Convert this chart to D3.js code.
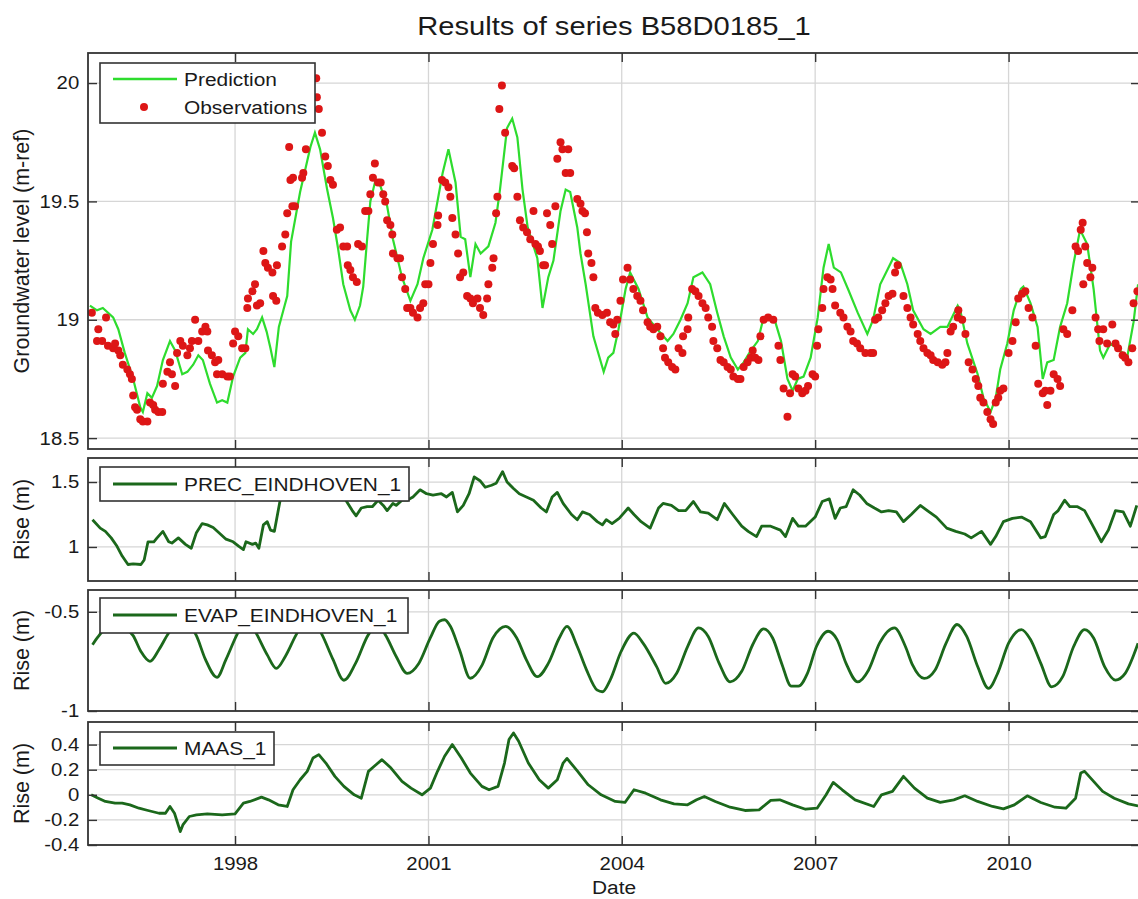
<!DOCTYPE html>
<html>
<head>
<meta charset="utf-8">
<script src="https://cdn.jsdelivr.net/npm/d3@7"></script>
<style>
  body { margin: 0; background: #fff; }
  text { font-family: "Liberation Sans", Arial, sans-serif; fill: #1a1a1a; }
</style>
</head>
<body>
<svg id="chart"></svg>
<script>
// ---- data (decimal year, value) ----
const yearTicks = [1998, 2001, 2004, 2007, 2010];
const mainTicks = [18.5, 19, 19.5, 20];
const precTicks = [1, 1.5];
const evapTicks = [-1, -0.5];
const maasTicks = [-0.4, -0.2, 0, 0.2, 0.4];

const prediction = [
[1995.75,19.06],[1995.86,19.04],[1995.95,19.05],[1996.11,19.01],[1996.19,18.96],[1996.29,18.86],[1996.42,18.75],[1996.53,18.63],[1996.57,18.61],[1996.64,18.69],[1996.71,18.67],[1996.79,18.72],[1996.88,18.83],[1996.99,18.91],[1997.07,18.87],[1997.18,18.77],[1997.26,18.78],[1997.35,18.81],[1997.43,18.85],[1997.50,18.83],[1997.61,18.73],[1997.72,18.65],[1997.80,18.66],[1997.88,18.65],[1997.97,18.76],[1998.08,18.84],[1998.16,18.86],[1998.20,18.96],[1998.28,18.94],[1998.34,18.96],[1998.42,19.01],[1998.49,18.95],[1998.55,18.88],[1998.61,18.80],[1998.68,18.97],[1998.75,19.04],[1998.81,19.10],[1998.87,19.33],[1999.01,19.54],[1999.17,19.73],[1999.24,19.79],[1999.32,19.72],[1999.43,19.55],[1999.52,19.43],[1999.60,19.30],[1999.68,19.15],[1999.79,19.04],[1999.86,19.00],[1999.94,19.06],[1999.99,19.14],[2000.05,19.34],[2000.10,19.50],[2000.18,19.59],[2000.25,19.57],[2000.36,19.48],[2000.45,19.34],[2000.59,19.18],[2000.72,19.08],[2000.83,19.15],[2000.92,19.26],[2001.06,19.38],[2001.22,19.62],[2001.31,19.72],[2001.42,19.58],[2001.50,19.35],[2001.57,19.34],[2001.65,19.18],[2001.73,19.32],[2001.81,19.28],[2001.93,19.31],[2002.04,19.41],[2002.11,19.55],[2002.22,19.81],[2002.30,19.85],[2002.38,19.77],[2002.46,19.55],[2002.54,19.39],[2002.69,19.26],[2002.77,19.05],[2002.86,19.18],[2002.94,19.25],[2003.05,19.46],[2003.13,19.55],[2003.20,19.54],[2003.31,19.39],[2003.36,19.28],[2003.44,19.15],[2003.56,18.93],[2003.72,18.78],[2003.79,18.84],[2003.87,18.86],[2003.95,18.96],[2004.06,19.13],[2004.13,19.20],[2004.26,19.13],[2004.40,19.01],[2004.55,18.96],[2004.71,18.91],[2004.80,18.94],[2004.91,19.00],[2005.02,19.07],[2005.11,19.18],[2005.25,19.20],[2005.37,19.15],[2005.48,19.03],[2005.58,18.93],[2005.69,18.84],[2005.80,18.79],[2005.89,18.82],[2006.00,18.87],[2006.11,18.91],[2006.20,19.01],[2006.36,19.01],[2006.47,18.91],[2006.57,18.75],[2006.65,18.70],[2006.73,18.75],[2006.82,18.76],[2006.93,18.84],[2007.04,19.01],[2007.13,19.22],[2007.21,19.32],[2007.29,19.22],[2007.40,19.20],[2007.51,19.13],[2007.66,19.03],[2007.81,18.94],[2007.90,19.00],[2008.01,19.15],[2008.12,19.21],[2008.21,19.26],[2008.32,19.24],[2008.43,19.15],[2008.52,19.04],[2008.68,18.96],[2008.79,18.94],[2008.94,18.97],[2009.05,18.97],[2009.21,19.06],[2009.25,19.04],[2009.36,18.90],[2009.52,18.77],[2009.61,18.67],[2009.72,18.61],[2009.80,18.67],[2009.87,18.79],[2009.98,18.90],[2010.08,19.04],[2010.19,19.13],[2010.23,19.14],[2010.34,19.07],[2010.45,18.97],[2010.53,18.75],[2010.60,18.82],[2010.70,18.83],[2010.80,18.97],[2010.91,19.07],[2011.01,19.24],[2011.11,19.38],[2011.22,19.32],[2011.32,19.13],[2011.42,18.87],[2011.47,18.84],[2011.58,18.90],[2011.73,18.87],[2011.84,18.84],[2011.94,18.99],[2012.01,19.15]
];

const observations = [
[1995.78,19.03],[1995.86,18.91],[1995.88,18.96],[1995.94,18.91],[1996.00,19.01],[1996.03,18.89],[1996.11,18.88],[1996.14,18.90],[1996.19,18.87],[1996.22,18.85],[1996.26,18.81],[1996.33,18.79],[1996.37,18.77],[1996.40,18.75],[1996.42,18.68],[1996.45,18.63],[1996.48,18.62],[1996.53,18.58],[1996.57,18.57],[1996.64,18.57],[1996.68,18.65],[1996.73,18.64],[1996.76,18.62],[1996.81,18.61],[1996.87,18.61],[1996.88,18.73],[1996.95,18.78],[1996.99,18.82],[1997.02,18.77],[1997.07,18.72],[1997.10,18.86],[1997.15,18.91],[1997.19,18.89],[1997.26,18.85],[1997.30,18.88],[1997.33,18.91],[1997.38,19.00],[1997.43,18.91],[1997.49,18.95],[1997.54,18.97],[1997.57,18.95],[1997.58,18.87],[1997.64,18.85],[1997.69,18.82],[1997.74,18.83],[1997.72,18.77],[1997.80,18.77],[1997.88,18.76],[1997.92,18.76],[1997.97,18.90],[1998.00,18.95],[1998.05,18.93],[1998.11,18.88],[1998.16,18.88],[1998.19,19.05],[1998.20,19.09],[1998.27,19.12],[1998.31,19.15],[1998.34,19.06],[1998.39,19.07],[1998.44,19.29],[1998.47,19.24],[1998.51,19.22],[1998.58,19.20],[1998.65,19.23],[1998.59,19.10],[1998.64,19.08],[1998.73,19.31],[1998.78,19.36],[1998.81,19.45],[1998.84,19.73],[1998.86,19.59],[1998.89,19.48],[1998.90,19.60],[1998.93,19.48],[1999.04,19.60],[1999.06,19.62],[1999.10,19.72],[1999.26,20.02],[1999.27,19.94],[1999.30,19.89],[1999.35,19.79],[1999.40,19.69],[1999.44,19.65],[1999.48,19.59],[1999.52,19.57],[1999.58,19.38],[1999.63,19.39],[1999.68,19.31],[1999.74,19.31],[1999.75,19.23],[1999.79,19.21],[1999.83,19.18],[1999.89,19.16],[1999.91,19.32],[1999.97,19.31],[2000.02,19.46],[2000.07,19.46],[2000.10,19.53],[2000.14,19.60],[2000.17,19.66],[2000.22,19.58],[2000.26,19.58],[2000.30,19.53],[2000.33,19.50],[2000.36,19.42],[2000.41,19.40],[2000.44,19.36],[2000.45,19.28],[2000.52,19.26],[2000.56,19.26],[2000.59,19.18],[2000.64,19.13],[2000.67,19.05],[2000.72,19.05],[2000.76,19.03],[2000.83,19.01],[2000.87,19.05],[2000.92,19.07],[2000.95,19.15],[2001.00,19.15],[2001.03,19.24],[2001.07,19.32],[2001.14,19.40],[2001.15,19.44],[2001.21,19.59],[2001.26,19.58],[2001.31,19.56],[2001.34,19.52],[2001.37,19.43],[2001.42,19.36],[2001.46,19.28],[2001.49,19.18],[2001.54,19.20],[2001.60,19.10],[2001.65,19.09],[2001.69,19.07],[2001.76,19.09],[2001.80,19.05],[2001.85,19.02],[2001.91,19.09],[2001.93,19.15],[2001.99,19.22],[2002.01,19.26],[2002.05,19.45],[2002.07,19.52],[2002.10,19.89],[2002.14,19.99],[2002.19,19.79],[2002.30,19.65],[2002.33,19.64],[2002.38,19.52],[2002.42,19.42],[2002.47,19.39],[2002.53,19.37],[2002.58,19.34],[2002.63,19.46],[2002.66,19.32],[2002.70,19.31],[2002.73,19.29],[2002.78,19.23],[2002.81,19.23],[2002.84,19.45],[2002.89,19.40],[2002.92,19.32],[2002.97,19.48],[2003.00,19.68],[2003.05,19.75],[2003.08,19.72],[2003.13,19.62],[2003.17,19.72],[2003.20,19.62],[2003.31,19.51],[2003.36,19.49],[2003.39,19.46],[2003.43,19.45],[2003.46,19.37],[2003.48,19.28],[2003.53,19.24],[2003.56,19.18],[2003.59,19.05],[2003.63,19.03],[2003.70,19.02],[2003.77,19.03],[2003.82,18.99],[2003.87,18.98],[2003.90,18.94],[2003.93,19.00],[2003.98,19.08],[2004.02,19.17],[2004.09,19.22],[2004.13,19.17],[2004.18,19.13],[2004.24,19.10],[2004.29,19.08],[2004.33,19.04],[2004.40,18.99],[2004.44,18.97],[2004.49,18.96],[2004.55,18.97],[2004.60,18.93],[2004.64,18.88],[2004.67,18.84],[2004.72,18.82],[2004.78,18.80],[2004.83,18.79],[2004.88,18.88],[2004.94,18.86],[2004.95,18.93],[2005.02,18.96],[2005.03,19.01],[2005.09,19.13],[2005.14,19.12],[2005.19,19.10],[2005.25,19.07],[2005.30,19.05],[2005.34,19.01],[2005.40,18.97],[2005.42,18.91],[2005.48,18.88],[2005.53,18.83],[2005.58,18.82],[2005.64,18.80],[2005.69,18.79],[2005.73,18.76],[2005.80,18.75],[2005.84,18.75],[2005.89,18.80],[2005.95,18.82],[2006.00,18.84],[2006.03,18.87],[2006.07,18.84],[2006.12,18.83],[2006.15,18.93],[2006.20,19.00],[2006.27,19.01],[2006.35,19.00],[2006.43,18.89],[2006.46,18.83],[2006.51,18.71],[2006.57,18.59],[2006.61,18.69],[2006.65,18.77],[2006.69,18.76],[2006.74,18.71],[2006.80,18.69],[2006.85,18.70],[2006.89,18.72],[2006.96,18.77],[2007.00,18.76],[2007.03,18.89],[2007.05,18.96],[2007.11,19.05],[2007.13,19.13],[2007.19,19.18],[2007.24,19.17],[2007.27,19.13],[2007.31,19.06],[2007.39,19.03],[2007.44,19.01],[2007.50,18.97],[2007.55,18.95],[2007.59,18.91],[2007.65,18.90],[2007.70,18.88],[2007.78,18.86],[2007.86,18.86],[2007.90,18.86],[2007.93,19.00],[2007.98,19.01],[2008.04,19.04],[2008.09,19.07],[2008.14,19.10],[2008.20,19.11],[2008.24,19.20],[2008.28,19.23],[2008.37,19.10],[2008.43,19.05],[2008.48,19.01],[2008.52,18.98],[2008.59,18.94],[2008.63,18.91],[2008.68,18.88],[2008.74,18.86],[2008.79,18.85],[2008.83,18.83],[2008.90,18.82],[2008.97,18.81],[2009.02,18.82],[2009.05,18.86],[2009.10,18.95],[2009.14,18.97],[2009.21,19.01],[2009.22,19.04],[2009.28,19.00],[2009.33,18.94],[2009.38,18.82],[2009.44,18.79],[2009.49,18.75],[2009.53,18.72],[2009.56,18.67],[2009.61,18.65],[2009.67,18.61],[2009.72,18.58],[2009.76,18.56],[2009.80,18.65],[2009.84,18.67],[2009.87,18.70],[2009.92,18.71],[2010.00,18.86],[2010.06,18.91],[2010.11,18.99],[2010.15,19.09],[2010.21,19.11],[2010.26,19.12],[2010.31,19.05],[2010.37,19.01],[2010.42,18.89],[2010.46,18.73],[2010.53,18.69],[2010.57,18.70],[2010.60,18.64],[2010.65,18.70],[2010.70,18.77],[2010.76,18.75],[2010.80,18.72],[2010.85,18.96],[2010.91,18.94],[2010.99,19.04],[2011.04,19.31],[2011.08,19.29],[2011.12,19.38],[2011.15,19.41],[2011.16,19.15],[2011.19,19.31],[2011.22,19.24],[2011.27,19.18],[2011.30,19.22],[2011.35,19.01],[2011.39,18.96],[2011.41,18.91],[2011.47,18.96],[2011.53,18.90],[2011.61,18.98],[2011.66,18.90],[2011.70,18.88],[2011.77,18.85],[2011.81,18.84],[2011.86,18.82],[2011.92,18.88],[2011.94,19.07],[2012.00,19.12]
];

const prec = [
[1995.79,1.21],[1995.91,1.145],[1995.99,1.12],[1996.08,1.07],[1996.17,1.005],[1996.25,0.93],[1996.34,0.865],[1996.42,0.87],[1996.54,0.865],[1996.59,0.90],[1996.65,1.04],[1996.74,1.04],[1996.79,1.07],[1996.88,1.12],[1996.97,1.04],[1997.02,1.03],[1997.12,1.07],[1997.23,1.02],[1997.32,0.99],[1997.40,1.11],[1997.49,1.18],[1997.57,1.17],[1997.66,1.15],[1997.75,1.11],[1997.86,1.06],[1997.97,1.04],[1998.06,1.005],[1998.13,0.98],[1998.17,1.04],[1998.27,1.02],[1998.32,1.03],[1998.37,0.99],[1998.44,1.17],[1998.50,1.195],[1998.55,1.13],[1998.61,1.12],[1998.70,1.36],[1998.76,1.50],[1998.93,1.47],[1999.09,1.52],[1999.24,1.48],[1999.40,1.45],[1999.55,1.42],[1999.65,1.40],[1999.72,1.36],[1999.82,1.28],[1999.88,1.24],[1999.96,1.30],[2000.05,1.31],[2000.13,1.31],[2000.22,1.36],[2000.30,1.32],[2000.36,1.28],[2000.45,1.335],[2000.50,1.32],[2000.59,1.36],[2000.67,1.36],[2000.76,1.385],[2000.87,1.44],[2000.97,1.41],[2001.07,1.40],[2001.20,1.41],[2001.28,1.385],[2001.37,1.42],[2001.45,1.27],[2001.54,1.32],[2001.63,1.41],[2001.71,1.54],[2001.80,1.51],[2001.88,1.46],[2001.98,1.475],[2002.05,1.49],[2002.15,1.58],[2002.22,1.50],[2002.32,1.45],[2002.41,1.41],[2002.52,1.385],[2002.63,1.36],[2002.75,1.30],[2002.83,1.27],[2002.92,1.385],[2003.00,1.42],[2003.09,1.335],[2003.22,1.25],[2003.31,1.21],[2003.39,1.27],[2003.50,1.25],[2003.62,1.195],[2003.70,1.17],[2003.76,1.21],[2003.85,1.18],[2003.96,1.22],[2004.10,1.30],[2004.19,1.25],[2004.30,1.195],[2004.44,1.145],[2004.57,1.30],[2004.64,1.335],[2004.77,1.32],[2004.88,1.28],[2004.99,1.28],[2005.11,1.35],[2005.22,1.27],[2005.34,1.26],[2005.48,1.21],[2005.59,1.335],[2005.72,1.25],[2005.86,1.16],[2005.96,1.12],[2006.09,1.08],[2006.17,1.16],[2006.31,1.16],[2006.46,1.13],[2006.54,1.08],[2006.65,1.22],[2006.74,1.16],[2006.85,1.16],[2007.00,1.23],[2007.11,1.35],[2007.22,1.37],[2007.31,1.22],[2007.39,1.30],[2007.48,1.31],[2007.59,1.44],[2007.69,1.40],[2007.80,1.335],[2007.92,1.30],[2008.03,1.27],[2008.14,1.28],[2008.26,1.27],[2008.37,1.195],[2008.49,1.25],[2008.63,1.32],[2008.74,1.28],[2008.88,1.23],[2009.04,1.145],[2009.18,1.12],[2009.32,1.10],[2009.42,1.07],[2009.58,1.12],[2009.72,1.02],[2009.80,1.08],[2009.92,1.195],[2010.06,1.22],[2010.20,1.23],[2010.34,1.195],[2010.50,1.07],[2010.57,1.08],[2010.70,1.25],[2010.77,1.28],[2010.87,1.36],[2010.95,1.31],[2011.07,1.31],[2011.18,1.28],[2011.29,1.18],[2011.44,1.04],[2011.55,1.13],[2011.66,1.28],[2011.78,1.27],[2011.89,1.16],[2011.99,1.32]
];

const evap = [
[1995.79,-0.666],[1995.88,-0.624],[1996.14,-0.55],[1996.29,-0.58],[1996.42,-0.62],[1996.54,-0.70],[1996.68,-0.75],[1996.82,-0.69],[1996.97,-0.607],[1997.18,-0.54],[1997.40,-0.62],[1997.54,-0.74],[1997.72,-0.83],[1997.86,-0.74],[1998.03,-0.615],[1998.19,-0.53],[1998.34,-0.615],[1998.50,-0.717],[1998.64,-0.785],[1998.78,-0.725],[1998.95,-0.615],[1999.15,-0.52],[1999.35,-0.615],[1999.52,-0.74],[1999.69,-0.845],[1999.87,-0.76],[2000.07,-0.615],[2000.21,-0.57],[2000.33,-0.615],[2000.50,-0.725],[2000.67,-0.81],[2000.85,-0.76],[2001.03,-0.63],[2001.17,-0.547],[2001.25,-0.54],[2001.34,-0.573],[2001.48,-0.69],[2001.65,-0.835],[2001.83,-0.77],[2002.00,-0.632],[2002.20,-0.573],[2002.37,-0.632],[2002.52,-0.742],[2002.69,-0.827],[2002.86,-0.76],[2003.03,-0.632],[2003.15,-0.573],[2003.31,-0.675],[2003.45,-0.79],[2003.62,-0.895],[2003.70,-0.903],[2003.82,-0.844],[2003.99,-0.70],[2004.19,-0.607],[2004.33,-0.658],[2004.54,-0.776],[2004.68,-0.861],[2004.85,-0.81],[2005.02,-0.675],[2005.19,-0.581],[2005.34,-0.624],[2005.51,-0.76],[2005.68,-0.853],[2005.86,-0.80],[2006.03,-0.666],[2006.20,-0.586],[2006.34,-0.632],[2006.48,-0.76],[2006.63,-0.875],[2006.74,-0.875],[2006.88,-0.81],[2007.02,-0.675],[2007.20,-0.598],[2007.34,-0.64],[2007.48,-0.76],[2007.66,-0.853],[2007.83,-0.793],[2008.00,-0.658],[2008.23,-0.581],[2008.40,-0.675],[2008.51,-0.768],[2008.69,-0.836],[2008.86,-0.793],[2009.03,-0.658],[2009.20,-0.564],[2009.35,-0.624],[2009.52,-0.776],[2009.69,-0.886],[2009.83,-0.81],[2010.00,-0.658],[2010.20,-0.59],[2010.34,-0.64],[2010.50,-0.76],[2010.67,-0.878],[2010.84,-0.827],[2011.01,-0.675],[2011.18,-0.59],[2011.32,-0.632],[2011.49,-0.776],[2011.66,-0.844],[2011.81,-0.81],[2012.01,-0.658]
];

const maas = [
[1995.77,0.0],[1995.88,-0.027],[1995.99,-0.053],[1996.14,-0.067],[1996.25,-0.067],[1996.37,-0.08],[1996.51,-0.107],[1996.65,-0.125],[1996.82,-0.147],[1996.92,-0.147],[1996.99,-0.093],[1997.06,-0.147],[1997.15,-0.293],[1997.19,-0.24],[1997.29,-0.173],[1997.40,-0.16],[1997.57,-0.152],[1997.80,-0.16],[1998.00,-0.152],[1998.13,-0.067],[1998.23,-0.053],[1998.41,-0.019],[1998.52,-0.04],[1998.67,-0.08],[1998.81,-0.093],[1998.90,0.04],[1999.01,0.12],[1999.12,0.187],[1999.21,0.293],[1999.30,0.32],[1999.41,0.253],[1999.55,0.147],[1999.69,0.067],[1999.85,0.0],[1999.96,-0.027],[2000.07,0.187],[2000.16,0.227],[2000.28,0.28],[2000.42,0.213],[2000.59,0.107],[2000.73,0.053],[2000.90,0.0],[2001.03,0.053],[2001.14,0.187],[2001.25,0.307],[2001.37,0.40],[2001.51,0.293],[2001.65,0.173],[2001.83,0.067],[2001.94,0.04],[2002.08,0.067],[2002.18,0.253],[2002.25,0.44],[2002.32,0.493],[2002.40,0.427],[2002.55,0.253],[2002.72,0.12],[2002.86,0.053],[2003.00,0.12],[2003.09,0.253],[2003.15,0.29],[2003.31,0.19],[2003.48,0.08],[2003.68,0.0],[2003.90,-0.053],[2004.05,-0.061],[2004.19,0.04],[2004.37,0.013],[2004.60,-0.04],[2004.81,-0.072],[2005.02,-0.08],[2005.16,-0.04],[2005.28,-0.013],[2005.45,-0.053],[2005.68,-0.099],[2005.91,-0.125],[2006.13,-0.12],[2006.31,-0.045],[2006.45,-0.04],[2006.65,-0.08],[2006.85,-0.115],[2007.03,-0.107],[2007.17,0.0],[2007.28,0.099],[2007.42,0.04],[2007.62,-0.04],[2007.91,-0.093],[2008.03,0.0],[2008.20,0.027],[2008.37,0.147],[2008.54,0.053],[2008.74,-0.027],[2008.94,-0.061],[2009.15,-0.04],[2009.32,-0.008],[2009.52,-0.053],[2009.75,-0.093],[2009.92,-0.112],[2010.09,-0.08],[2010.29,-0.008],[2010.50,-0.061],[2010.72,-0.099],[2010.89,-0.107],[2011.04,-0.027],[2011.12,0.173],[2011.18,0.187],[2011.32,0.107],[2011.46,0.027],[2011.64,-0.027],[2011.86,-0.072],[2012.01,-0.088]
];

// ---- layout ----
const width = 1138, height = 899;
const plotLeft = 88, plotRight = 1140;
const SX = 1.1; // text is a bit wide in the source picture
const predColor = "#2edc2e", obsColor = "#dd1616", contribColor = "#1b681b";
const font = "\"Liberation Sans\", Arial, sans-serif";

function toDate(y) {
    const yr = Math.floor(y);
    const s = new Date(yr, 0, 1), e = new Date(yr + 1, 0, 1);
    return new Date(+s + (y - yr) * (e - s));
}

const svg = d3.select("#chart")
    .attr("width", width)
    .attr("height", height)
    .style("background", "#fff");

const x = d3.scaleTime()
    .domain([toDate(1995.72), toDate(2012.04)])
    .range([plotLeft, plotRight]);
const xTickDates = yearTicks.map(y => new Date(y, 0, 1));

const panels = [
    { top: 53, bottom: 449, domain: [18.454, 20.127], ticks: mainTicks, label: "Groundwater level (m-ref)" },
    { top: 458, bottom: 581, domain: [0.738, 1.685], ticks: precTicks, label: "Rise (m)" },
    { top: 590, bottom: 711, domain: [-1.0, -0.39], ticks: evapTicks, label: "Rise (m)" },
    { top: 722, bottom: 845, domain: [-0.4, 0.58], ticks: maasTicks, label: "Rise (m)" }
];

function wideText(sel, tx, ty) {
    return sel.attr("transform", `translate(${tx},${ty}) scale(${SX},1)`);
}

function legendBox(g, x0, y0, w, h, items) {
    const lg = g.append("g");
    lg.append("rect")
        .attr("x", x0).attr("y", y0)
        .attr("width", w).attr("height", h)
        .attr("fill", "#fff")
        .attr("stroke", "#333")
        .attr("stroke-width", 1.6);
    items.forEach(it => {
        if (it.type === "line") {
            lg.append("line")
                .attr("x1", x0 + 13).attr("x2", x0 + 77)
                .attr("y1", it.y).attr("y2", it.y)
                .attr("stroke", it.color)
                .attr("stroke-width", it.w);
        } else {
            lg.append("circle")
                .attr("cx", x0 + 44).attr("cy", it.y)
                .attr("r", 4)
                .attr("fill", it.color);
        }
        lg.append("text")
            .call(wideText, x0 + 84, it.y + 7)
            .style("font-size", "19px")
            .text(it.text);
    });
}

panels.forEach((p, i) => {
    p.y = d3.scaleLinear().domain(p.domain).range([p.bottom, p.top]);
    const g = svg.append("g");

    g.append("clipPath").attr("id", "clip" + i)
        .append("rect")
        .attr("x", plotLeft).attr("y", p.top)
        .attr("width", plotRight - plotLeft).attr("height", p.bottom - p.top);

    // grid
    g.append("g").selectAll("line")
        .data(xTickDates)
        .join("line")
        .attr("x1", d => x(d)).attr("x2", d => x(d))
        .attr("y1", p.top).attr("y2", p.bottom)
        .attr("stroke", "#d6d6d6").attr("stroke-width", 1.3);
    g.append("g").selectAll("line")
        .data(p.ticks)
        .join("line")
        .attr("x1", plotLeft).attr("x2", plotRight)
        .attr("y1", d => p.y(d)).attr("y2", d => p.y(d))
        .attr("stroke", "#d6d6d6").attr("stroke-width", 1.3);

    const plot = g.append("g").attr("clip-path", `url(#clip${i})`);
    const line = d3.line().x(d => x(toDate(d[0]))).y(d => p.y(d[1]));

    if (i === 0) {
        plot.append("path")
            .datum(prediction)
            .attr("d", line)
            .attr("fill", "none")
            .attr("stroke", predColor)
            .attr("stroke-width", 2.2);
        plot.append("g").selectAll("circle")
            .data(observations)
            .join("circle")
            .attr("cx", d => x(toDate(d[0])))
            .attr("cy", d => p.y(d[1]))
            .attr("r", 4)
            .attr("fill", obsColor);
    } else {
        const series = [prec, evap, maas][i - 1];
        const ln = i === 2 ? line.curve(d3.curveMonotoneX) : line;
        plot.append("path")
            .datum(series)
            .attr("d", ln)
            .attr("fill", "none")
            .attr("stroke", contribColor)
            .attr("stroke-width", 2.8)
            .attr("stroke-linejoin", "round");
    }

    // axes, ticks pointing inward on all sides
    g.append("g")
        .attr("transform", `translate(${plotLeft},0)`)
        .call(d3.axisLeft(p.y).tickValues(p.ticks).tickSize(-9).tickSizeOuter(0)
            .tickPadding(8).tickFormat(d => String(d)));
    g.append("g")
        .attr("transform", `translate(${plotRight},0)`)
        .call(d3.axisRight(p.y).tickValues(p.ticks).tickSize(-9).tickSizeOuter(0).tickFormat(""));
    g.append("g")
        .attr("transform", `translate(0,${p.top})`)
        .call(d3.axisTop(x).tickValues(xTickDates).tickSize(-9).tickSizeOuter(0).tickFormat(""));
    g.append("g")
        .attr("transform", `translate(0,${p.bottom})`)
        .call(d3.axisBottom(x).tickValues(xTickDates).tickSize(-9).tickSizeOuter(0)
            .tickPadding(12)
            .tickFormat(i === panels.length - 1 ? d3.timeFormat("%Y") : ""));

    g.selectAll(".domain").remove();
    g.selectAll(".tick line").attr("stroke", "#333").attr("stroke-width", 1.4);
    g.selectAll(".tick text")
        .attr("fill", "#1a1a1a")
        .style("font-family", font)
        .style("font-size", "18.5px")
        .attr("transform", `scale(${SX},1)`);

    g.append("rect")
        .attr("x", plotLeft).attr("y", p.top)
        .attr("width", plotRight - plotLeft).attr("height", p.bottom - p.top)
        .attr("fill", "none")
        .attr("stroke", "#333")
        .attr("stroke-width", 1.8);

    g.append("text")
        .attr("transform", `translate(29,${(p.top + p.bottom) / 2}) rotate(-90)`)
        .attr("text-anchor", "middle")
        .style("font-size", "21.5px")
        .text(p.label);
});

// legends
legendBox(svg, 100, 63, 215, 60, [
    { type: "line", y: 79, color: predColor, w: 2.4, text: "Prediction" },
    { type: "dot", y: 107, color: obsColor, text: "Observations" }
]);
legendBox(svg, 100, 467, 309, 34, [
    { type: "line", y: 484, color: contribColor, w: 2.8, text: "PREC_EINDHOVEN_1" }
]);
legendBox(svg, 100, 598, 308, 35, [
    { type: "line", y: 615, color: contribColor, w: 2.8, text: "EVAP_EINDHOVEN_1" }
]);
legendBox(svg, 100, 732, 174, 33, [
    { type: "line", y: 748, color: contribColor, w: 2.8, text: "MAAS_1" }
]);

// title and x label
svg.append("text")
    .call(wideText, 614, 35)
    .attr("text-anchor", "middle")
    .style("font-size", "26.5px")
    .text("Results of series B58D0185_1");

svg.append("text")
    .call(wideText, 614, 894)
    .attr("text-anchor", "middle")
    .style("font-size", "19px")
    .text("Date");
</script>
</body>
</html>
